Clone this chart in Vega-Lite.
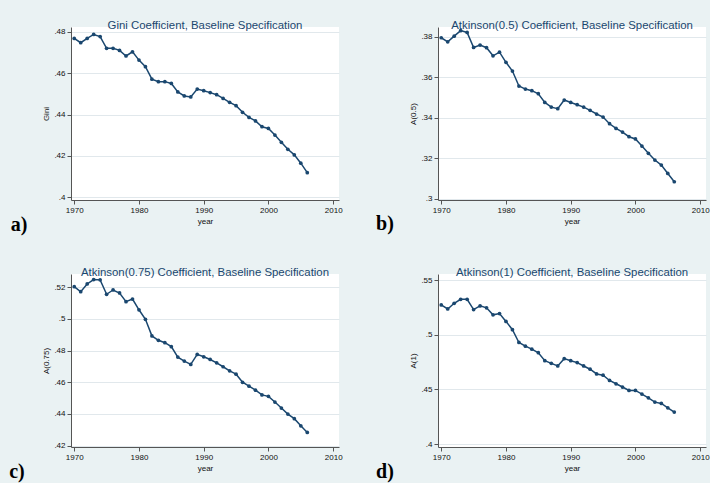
{
  "$schema": "https://vega.github.io/schema/vega-lite/v6.json",
  "background": "#EAF2F3",
  "padding": {"left": 9, "top": 19, "right": 0, "bottom": 0},
  "bounds": "flush",
  "columns": 2,
  "spacing": {"row": 74, "column": 99},
  "config": {
    "font": "Liberation Sans",
    "view": {"fill": "white", "stroke": null},
    "title": {"fontSize": 11.4, "fontWeight": "normal", "color": "#1a476f", "offset": -4, "anchor": "middle", "frame": "group"},
    "axis": {"labelFontSize": 8, "titleFontSize": 8, "titleFontWeight": "normal", "labelColor": "#111", "titleColor": "#111", "domainColor": "#555", "tickColor": "#555", "tickSize": 4, "gridColor": "#e1e8ec", "titlePadding": 3, "labelPadding": 2, "labelOverlap": false},
    "axisX": {"grid": false},
    "axisY": {"grid": true}
  },
  "datasets": {
    "ineq": [
      {"year": 1970, "gini": 0.4768, "a05": 0.3795, "a075": 0.5204, "a1": 0.5274},
      {"year": 1971, "gini": 0.4747, "a05": 0.3775, "a075": 0.5172, "a1": 0.5237},
      {"year": 1972, "gini": 0.4768, "a05": 0.3803, "a075": 0.5221, "a1": 0.5289},
      {"year": 1973, "gini": 0.4787, "a05": 0.3830, "a075": 0.5249, "a1": 0.5325},
      {"year": 1974, "gini": 0.4777, "a05": 0.3821, "a075": 0.5247, "a1": 0.5325},
      {"year": 1975, "gini": 0.4720, "a05": 0.3747, "a075": 0.5156, "a1": 0.5231},
      {"year": 1976, "gini": 0.4720, "a05": 0.3759, "a075": 0.5183, "a1": 0.5265},
      {"year": 1977, "gini": 0.4710, "a05": 0.3746, "a075": 0.5164, "a1": 0.5247},
      {"year": 1978, "gini": 0.4683, "a05": 0.3706, "a075": 0.5109, "a1": 0.5183},
      {"year": 1979, "gini": 0.4703, "a05": 0.3724, "a075": 0.5126, "a1": 0.5195},
      {"year": 1980, "gini": 0.4663, "a05": 0.3674, "a075": 0.5058, "a1": 0.5123},
      {"year": 1981, "gini": 0.4631, "a05": 0.3631, "a075": 0.4998, "a1": 0.5047},
      {"year": 1982, "gini": 0.4571, "a05": 0.3557, "a075": 0.4893, "a1": 0.4930},
      {"year": 1983, "gini": 0.4559, "a05": 0.3542, "a075": 0.4865, "a1": 0.4896},
      {"year": 1984, "gini": 0.4559, "a05": 0.3534, "a075": 0.4850, "a1": 0.4869},
      {"year": 1985, "gini": 0.4550, "a05": 0.3519, "a075": 0.4825, "a1": 0.4836},
      {"year": 1986, "gini": 0.4509, "a05": 0.3476, "a075": 0.4759, "a1": 0.4763},
      {"year": 1987, "gini": 0.4490, "a05": 0.3453, "a075": 0.4734, "a1": 0.4739},
      {"year": 1988, "gini": 0.4485, "a05": 0.3445, "a075": 0.4713, "a1": 0.4715},
      {"year": 1989, "gini": 0.4523, "a05": 0.3488, "a075": 0.4776, "a1": 0.4782},
      {"year": 1990, "gini": 0.4515, "a05": 0.3476, "a075": 0.4761, "a1": 0.4763},
      {"year": 1991, "gini": 0.4506, "a05": 0.3465, "a075": 0.4744, "a1": 0.4746},
      {"year": 1992, "gini": 0.4496, "a05": 0.3453, "a075": 0.4723, "a1": 0.4715},
      {"year": 1993, "gini": 0.4478, "a05": 0.3437, "a075": 0.4698, "a1": 0.4685},
      {"year": 1994, "gini": 0.4459, "a05": 0.3419, "a075": 0.4672, "a1": 0.4642},
      {"year": 1995, "gini": 0.4443, "a05": 0.3404, "a075": 0.4651, "a1": 0.4630},
      {"year": 1996, "gini": 0.4411, "a05": 0.3371, "a075": 0.4600, "a1": 0.4582},
      {"year": 1997, "gini": 0.4386, "a05": 0.3348, "a075": 0.4575, "a1": 0.4552},
      {"year": 1998, "gini": 0.4369, "a05": 0.3330, "a075": 0.4550, "a1": 0.4522},
      {"year": 1999, "gini": 0.4341, "a05": 0.3307, "a075": 0.4520, "a1": 0.4491},
      {"year": 2000, "gini": 0.4333, "a05": 0.3296, "a075": 0.4511, "a1": 0.4491},
      {"year": 2001, "gini": 0.4301, "a05": 0.3261, "a075": 0.4475, "a1": 0.4458},
      {"year": 2002, "gini": 0.4266, "a05": 0.3225, "a075": 0.4437, "a1": 0.4423},
      {"year": 2003, "gini": 0.4232, "a05": 0.3192, "a075": 0.4399, "a1": 0.4384},
      {"year": 2004, "gini": 0.4205, "a05": 0.3167, "a075": 0.4370, "a1": 0.4372},
      {"year": 2005, "gini": 0.4165, "a05": 0.3126, "a075": 0.4325, "a1": 0.4332},
      {"year": 2006, "gini": 0.4119, "a05": 0.3085, "a075": 0.4283, "a1": 0.4293}
    ]
  },
  "concat": [
    {
      "width": 268, "height": 173,
      "title": "Gini Coefficient, Baseline Specification",
      "layer": [
        {"data": {"name": "ineq"}, "mark": {"type": "line", "color": "#1a476f", "strokeWidth": 1.5},
         "encoding": {
          "x": {"field": "year", "type": "quantitative", "scale": {"domain": [1969.5, 2010.9], "nice": false, "zero": false}, "axis": {"values": [1970, 1980, 1990, 2000, 2010], "format": "d", "title": "year", "labelOverlap": false}},
          "y": {"field": "gini", "type": "quantitative", "scale": {"domain": [0.3987, 0.4823], "nice": false, "zero": false}, "axis": {"values": [0.4, 0.42, 0.44, 0.46, 0.48], "title": "Gini", "labelExpr": "substring(format(datum.value, '.2~f'), 1)", "labelOverlap": false}}}},
        {"data": {"name": "ineq"}, "mark": {"type": "point", "filled": true, "color": "#1a476f", "size": 14, "opacity": 1},
         "encoding": {
          "x": {"field": "year", "type": "quantitative", "scale": {"domain": [1969.5, 2010.9], "nice": false, "zero": false}, "axis": {"values": [1970, 1980, 1990, 2000, 2010], "format": "d", "title": "year", "labelOverlap": false}},
          "y": {"field": "gini", "type": "quantitative", "scale": {"domain": [0.3987, 0.4823], "nice": false, "zero": false}, "axis": {"values": [0.4, 0.42, 0.44, 0.46, 0.48], "title": "Gini", "labelExpr": "substring(format(datum.value, '.2~f'), 1)", "labelOverlap": false}}}},
        {"data": {"values": [{"label": "a)"}]}, "mark": {"type": "text", "font": "Liberation Serif", "fontWeight": "bold", "fontSize": 20, "align": "center", "baseline": "middle", "color": "black", "clip": false},
         "encoding": {
          "x": {"datum": 1961.47, "type": "quantitative", "axis": {"values": [1970, 1980, 1990, 2000, 2010], "format": "d", "title": "year", "labelOverlap": false}},
          "y": {"datum": 0.3866, "type": "quantitative", "axis": {"values": [0.4, 0.42, 0.44, 0.46, 0.48], "title": "Gini", "labelExpr": "substring(format(datum.value, '.2~f'), 1)", "labelOverlap": false}},
          "text": {"field": "label"}}}
      ]
    },
    {
      "width": 268, "height": 173,
      "title": "Atkinson(0.5) Coefficient, Baseline Specification",
      "layer": [
        {"data": {"name": "ineq"}, "mark": {"type": "line", "color": "#1a476f", "strokeWidth": 1.5},
         "encoding": {
          "x": {"field": "year", "type": "quantitative", "scale": {"domain": [1969.5, 2010.9], "nice": false, "zero": false}, "axis": {"values": [1970, 1980, 1990, 2000, 2010], "format": "d", "title": "year", "labelOverlap": false}},
          "y": {"field": "a05", "type": "quantitative", "scale": {"domain": [0.2995, 0.3848], "nice": false, "zero": false}, "axis": {"values": [0.3, 0.32, 0.34, 0.36, 0.38], "title": "A(0.5)", "labelExpr": "substring(format(datum.value, '.2~f'), 1)", "labelOverlap": false}}}},
        {"data": {"name": "ineq"}, "mark": {"type": "point", "filled": true, "color": "#1a476f", "size": 14, "opacity": 1},
         "encoding": {
          "x": {"field": "year", "type": "quantitative", "scale": {"domain": [1969.5, 2010.9], "nice": false, "zero": false}, "axis": {"values": [1970, 1980, 1990, 2000, 2010], "format": "d", "title": "year", "labelOverlap": false}},
          "y": {"field": "a05", "type": "quantitative", "scale": {"domain": [0.2995, 0.3848], "nice": false, "zero": false}, "axis": {"values": [0.3, 0.32, 0.34, 0.36, 0.38], "title": "A(0.5)", "labelExpr": "substring(format(datum.value, '.2~f'), 1)", "labelOverlap": false}}}},
        {"data": {"values": [{"label": "b)"}]}, "mark": {"type": "text", "font": "Liberation Serif", "fontWeight": "bold", "fontSize": 20, "align": "center", "baseline": "middle", "color": "black", "clip": false},
         "encoding": {
          "x": {"datum": 1961.31, "type": "quantitative", "axis": {"values": [1970, 1980, 1990, 2000, 2010], "format": "d", "title": "year", "labelOverlap": false}},
          "y": {"datum": 0.2877, "type": "quantitative", "axis": {"values": [0.3, 0.32, 0.34, 0.36, 0.38], "title": "A(0.5)", "labelExpr": "substring(format(datum.value, '.2~f'), 1)", "labelOverlap": false}},
          "text": {"field": "label"}}}
      ]
    },
    {
      "width": 268, "height": 173,
      "title": "Atkinson(0.75) Coefficient, Baseline Specification",
      "layer": [
        {"data": {"name": "ineq"}, "mark": {"type": "line", "color": "#1a476f", "strokeWidth": 1.5},
         "encoding": {
          "x": {"field": "year", "type": "quantitative", "scale": {"domain": [1969.5, 2010.9], "nice": false, "zero": false}, "axis": {"values": [1970, 1980, 1990, 2000, 2010], "format": "d", "title": "year", "labelOverlap": false}},
          "y": {"field": "a075", "type": "quantitative", "scale": {"domain": [0.4191, 0.5284], "nice": false, "zero": false}, "axis": {"values": [0.42, 0.44, 0.46, 0.48, 0.5, 0.52], "title": "A(0.75)", "labelExpr": "substring(format(datum.value, '.2~f'), 1)", "labelOverlap": false}}}},
        {"data": {"name": "ineq"}, "mark": {"type": "point", "filled": true, "color": "#1a476f", "size": 14, "opacity": 1},
         "encoding": {
          "x": {"field": "year", "type": "quantitative", "scale": {"domain": [1969.5, 2010.9], "nice": false, "zero": false}, "axis": {"values": [1970, 1980, 1990, 2000, 2010], "format": "d", "title": "year", "labelOverlap": false}},
          "y": {"field": "a075", "type": "quantitative", "scale": {"domain": [0.4191, 0.5284], "nice": false, "zero": false}, "axis": {"values": [0.42, 0.44, 0.46, 0.48, 0.5, 0.52], "title": "A(0.75)", "labelExpr": "substring(format(datum.value, '.2~f'), 1)", "labelOverlap": false}}}},
        {"data": {"values": [{"label": "c)"}]}, "mark": {"type": "text", "font": "Liberation Serif", "fontWeight": "bold", "fontSize": 20, "align": "center", "baseline": "middle", "color": "black", "clip": false},
         "encoding": {
          "x": {"datum": 1961.16, "type": "quantitative", "axis": {"values": [1970, 1980, 1990, 2000, 2010], "format": "d", "title": "year", "labelOverlap": false}},
          "y": {"datum": 0.4033, "type": "quantitative", "axis": {"values": [0.42, 0.44, 0.46, 0.48, 0.5, 0.52], "title": "A(0.75)", "labelExpr": "substring(format(datum.value, '.2~f'), 1)", "labelOverlap": false}},
          "text": {"field": "label"}}}
      ]
    },
    {
      "width": 268, "height": 173,
      "title": "Atkinson(1) Coefficient, Baseline Specification",
      "layer": [
        {"data": {"name": "ineq"}, "mark": {"type": "line", "color": "#1a476f", "strokeWidth": 1.5},
         "encoding": {
          "x": {"field": "year", "type": "quantitative", "scale": {"domain": [1969.5, 2010.9], "nice": false, "zero": false}, "axis": {"values": [1970, 1980, 1990, 2000, 2010], "format": "d", "title": "year", "labelOverlap": false}},
          "y": {"field": "a1", "type": "quantitative", "scale": {"domain": [0.3973, 0.5557], "nice": false, "zero": false}, "axis": {"values": [0.4, 0.45, 0.5, 0.55], "title": "A(1)", "labelExpr": "substring(format(datum.value, '.2~f'), 1)", "labelOverlap": false}}}},
        {"data": {"name": "ineq"}, "mark": {"type": "point", "filled": true, "color": "#1a476f", "size": 14, "opacity": 1},
         "encoding": {
          "x": {"field": "year", "type": "quantitative", "scale": {"domain": [1969.5, 2010.9], "nice": false, "zero": false}, "axis": {"values": [1970, 1980, 1990, 2000, 2010], "format": "d", "title": "year", "labelOverlap": false}},
          "y": {"field": "a1", "type": "quantitative", "scale": {"domain": [0.3973, 0.5557], "nice": false, "zero": false}, "axis": {"values": [0.4, 0.45, 0.5, 0.55], "title": "A(1)", "labelExpr": "substring(format(datum.value, '.2~f'), 1)", "labelOverlap": false}}}},
        {"data": {"values": [{"label": "d)"}]}, "mark": {"type": "text", "font": "Liberation Serif", "fontWeight": "bold", "fontSize": 20, "align": "center", "baseline": "middle", "color": "black", "clip": false},
         "encoding": {
          "x": {"datum": 1961.31, "type": "quantitative", "axis": {"values": [1970, 1980, 1990, 2000, 2010], "format": "d", "title": "year", "labelOverlap": false}},
          "y": {"datum": 0.3744, "type": "quantitative", "axis": {"values": [0.4, 0.45, 0.5, 0.55], "title": "A(1)", "labelExpr": "substring(format(datum.value, '.2~f'), 1)", "labelOverlap": false}},
          "text": {"field": "label"}}}
      ]
    }
  ]
}
